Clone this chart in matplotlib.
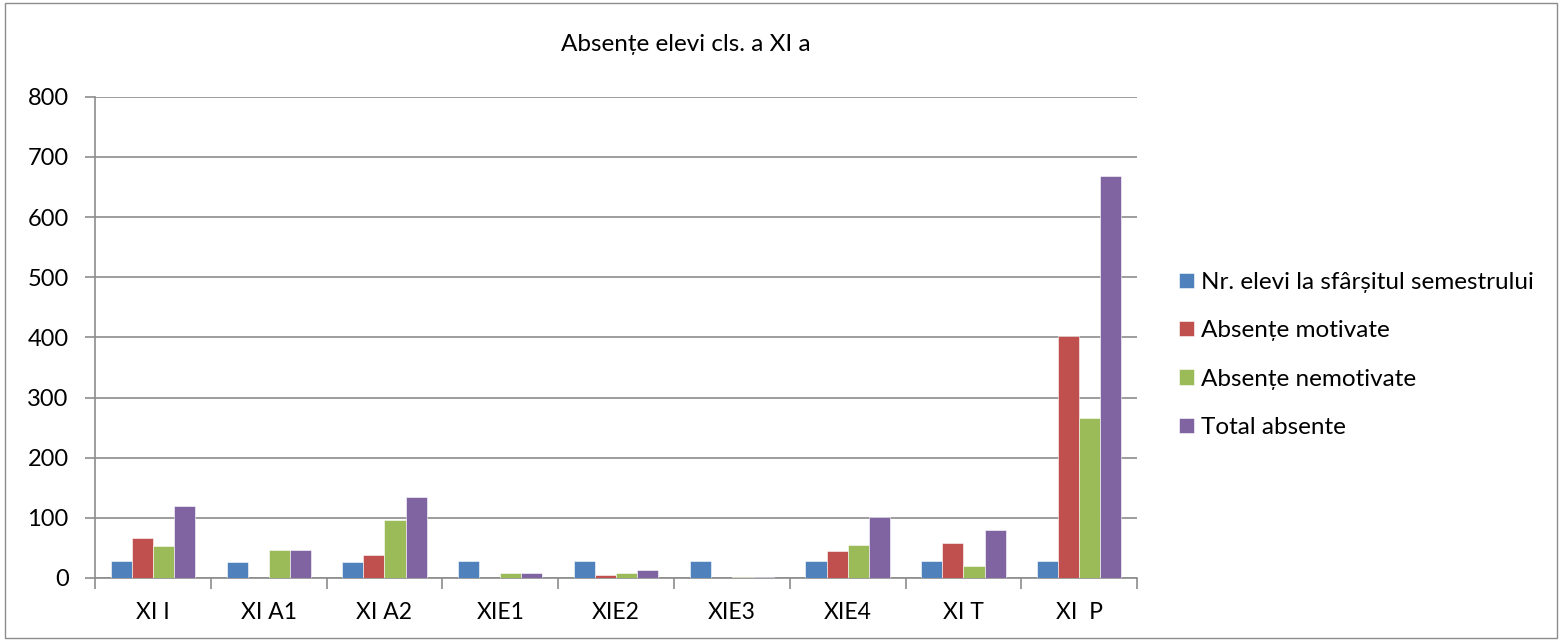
import numpy as np
import matplotlib.pyplot as plt

categories = ["XI I", "XI A1", "XI A2", "XIE1", "XIE2", "XIE3", "XIE4", "XI T", "XI  P"]
nr_elevi = [28, 27, 27, 28, 28, 28, 28, 29, 28]
motivate = [67, 0, 38, 0, 5, 0, 45, 59, 403]
nemotivate = [53, 46, 96, 8, 8, 1, 55, 20, 266]
total = [120, 46, 134, 8, 13, 2, 101, 80, 669]

series = [
    ("Nr. elevi la sfârșitul semestrului", nr_elevi, "#4F81BD"),
    ("Absențe motivate", motivate, "#C0504D"),
    ("Absențe nemotivate", nemotivate, "#9BBB59"),
    ("Total absente", total, "#8064A2"),
]

plt.rcParams["font.family"] = ["Lato", "DejaVu Sans"]

fig = plt.figure(figsize=(15.62, 6.41), dpi=100)
ax = fig.add_axes([0.0608, 0.0983, 0.6672, 0.7507])

x = np.arange(len(categories))
w = 0.182
for i, (name, vals, col) in enumerate(series):
    ax.bar(x + (i - 1.5) * w, vals, w, color=col, label=name, zorder=3,
           edgecolor="white", linewidth=0.4)

ax.set_xlim(-0.5, len(categories) - 0.5)
ax.set_ylim(0, 800)
ax.set_yticks(range(0, 801, 100))
ax.yaxis.grid(True, color="#8c8c8c", linewidth=1.2, zorder=0)
ax.set_xticks(x)
ax.set_xticklabels(categories, fontsize=16.5)
ax.set_xticks(np.arange(-0.5, len(categories)), minor=True)
ax.tick_params(axis="x", which="major", length=0, pad=17)
ax.tick_params(axis="x", which="minor", length=8, color="#8c8c8c", width=1.2)
ax.tick_params(axis="y", labelsize=17, length=7, color="#8c8c8c", width=1.2, pad=12)
for s in ["top", "right"]:
    ax.spines[s].set_visible(False)
for s in ["left", "bottom"]:
    ax.spines[s].set_color("#8c8c8c")
    ax.spines[s].set_linewidth(1.2)

fig.text(0.439, 0.93, "Absențe elevi cls. a XI a", ha="center", va="center", fontsize=17.5)

ax.legend(loc="center left", bbox_to_anchor=(1179 / 1562, 1 - 355 / 641),
          bbox_transform=fig.transFigure, borderaxespad=0, borderpad=0,
          frameon=False, fontsize=17.5, handlelength=0.6, handleheight=0.6,
          labelspacing=1.13, handletextpad=0.3)

fig.patches.append(plt.Rectangle((0.003, 0.004), 0.994, 0.992, transform=fig.transFigure,
                                 fill=False, edgecolor="#8c8c8c", linewidth=1))

fig.savefig("out.png", dpi=100)
